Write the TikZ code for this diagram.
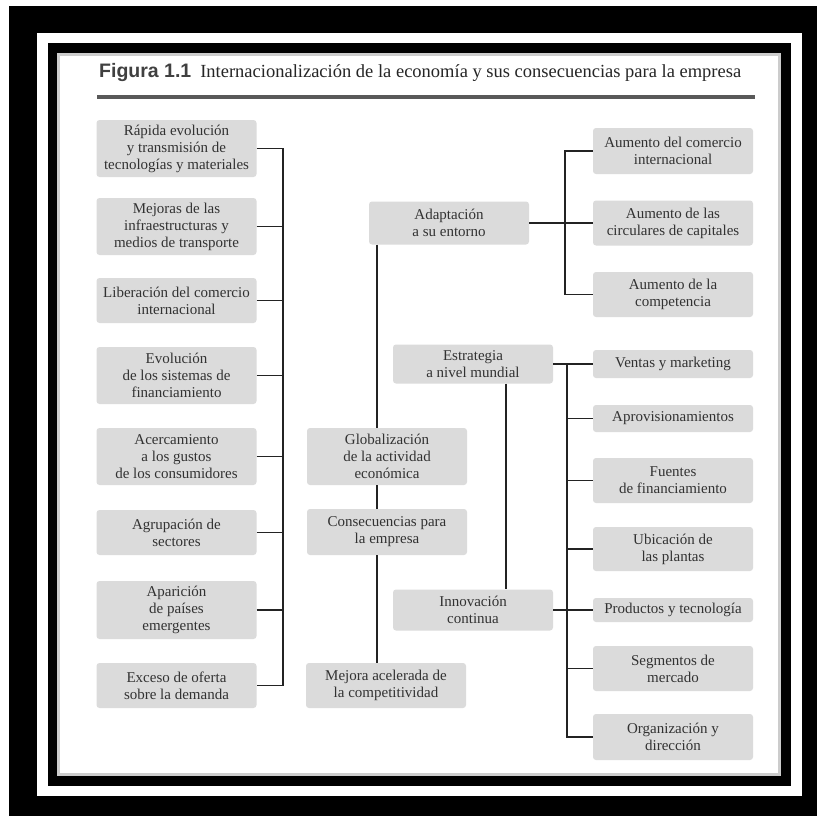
\documentclass[tikz,border=0pt]{standalone}
\usepackage{fontspec}
\setmainfont{Liberation Serif}
\newfontfamily\figsans{Liberation Sans}
\definecolor{boxgray}{RGB}{219,219,219}
\definecolor{txtgray}{RGB}{50,50,50}
\definecolor{linegray}{RGB}{35,35,35}

\begin{document}
\begin{tikzpicture}[x=1pt,y=-1pt,
    box/.style={fill=boxgray,rounded corners=3pt,text=txtgray,align=center,
      font=\fontsize{15}{17}\selectfont,minimum width=160pt,inner sep=0pt},
    ln/.style={draw=linegray,line width=1.8pt}]
  \useasboundingbox (0,0) rectangle (817,816);
  % frame
  \fill[white] (0,0) rectangle (817,816);
  \fill[black] (9,6) rectangle (817,816);
  \fill[white] (37,33) rectangle (802,796);
  \fill[black] (48,43) rectangle (791,786);
  \fill[white] (58,55) rectangle (779,774);
  \draw[black!20,line width=3pt] (58,55) rectangle (779,774);
  % title
  \node[anchor=west,inner sep=0pt,font=\fontsize{18.5}{22}\selectfont,text=black!85] (title) at (99,73)
    {{\figsans\bfseries\fontsize{19.5}{22}\selectfont\color{black!75}Figura 1.1}\hspace{9pt}Internacionalización de la economía y sus consecuencias para la empresa};
  \draw[black!65,line width=4pt] (97,97) -- (755,97);
  % left column
  \node[box,minimum height=57pt] (rap) at (176.5,148.5) {Rápida evolución\\y transmisión de\\tecnologías y materiales};
  \node[box,minimum height=57pt] (mej) at (176.5,226.5) {Mejoras de las\\infraestructuras y\\medios de transporte};
  \node[box,minimum height=45pt] (lib) at (176.5,300.5) {Liberación del comercio\\internacional};
  \node[box,minimum height=57pt] (evo) at (176.5,375.5) {Evolución\\de los sistemas de\\financiamiento};
  \node[box,minimum height=57pt] (ace) at (176.5,456.5) {Acercamiento\\a los gustos\\de los consumidores};
  \node[box,minimum height=45pt] (agr) at (176.5,532.5) {Agrupación de\\sectores};
  \node[box,minimum height=58pt] (apa) at (176.5,610) {Aparición\\de países\\emergentes};
  \node[box,minimum height=45pt] (exc) at (176.5,685.5) {Exceso de oferta\\sobre la demanda};
  % middle column
  \node[box,minimum height=43pt] (adap) at (449,223) {Adaptación\\a su entorno};
  \node[box,minimum height=39pt] (estr) at (473,364) {Estrategia\\a nivel mundial};
  \node[box,minimum height=57pt] (glob) at (387,456.5) {Globalización\\de la actividad\\económica};
  \node[box,minimum height=46pt] (cons) at (387,532) {Consecuencias para\\la empresa};
  \node[box,minimum height=41pt] (inno) at (473,610) {Innovación\\continua};
  \node[box,minimum height=45pt] (mejora) at (386,685.5) {Mejora acelerada de\\la competitividad};
  % right column
  \node[box,minimum height=46pt] (com) at (673,151) {Aumento del comercio\\internacional};
  \node[box,minimum height=45pt] (circ) at (673,223) {Aumento de las\\circulares de capitales};
  \node[box,minimum height=45pt] (compe) at (673,294.5) {Aumento de la\\competencia};
  \node[box,minimum height=28pt] (vent) at (673,364) {Ventas y marketing};
  \node[box,minimum height=27pt] (aprov) at (673,418.5) {Aprovisionamientos};
  \node[box,minimum height=45pt] (fuen) at (673,480.5) {Fuentes\\de financiamiento};
  \node[box,minimum height=44pt] (ubic) at (673,549) {Ubicación de\\las plantas};
  \node[box,minimum height=24pt] (prod) at (673,610) {Productos y tecnología};
  \node[box,minimum height=45pt] (segm) at (673,668.5) {Segmentos de\\mercado};
  \node[box,minimum height=46pt] (org) at (673,737) {Organización y\\dirección};
  % bars
  \coordinate (lbar) at (283,0);
  \coordinate (mbar) at (377,0);
  \coordinate (ebar) at (506,0);
  \coordinate (ubar) at (565,0);
  \coordinate (dbar) at (567,0);
  % left bracket
  \draw[ln] (rap.east) -| (exc.east -| lbar) -- (exc.east);
  \foreach \n in {mej,lib,evo,ace,agr,apa}
    \draw[ln] (\n.east) -- (\n.east -| lbar);
  % middle chain
  \draw[ln] (adap.south -| mbar) -- (glob.north -| mbar);
  \draw[ln] (glob.south -| mbar) -- (cons.north -| mbar);
  \draw[ln] (cons.south -| mbar) -- (mejora.north -| mbar);
  \draw[ln] (estr.south -| ebar) -- (inno.north -| ebar);
  % upper right bracket
  \draw[ln] (com.west) -| (compe.west -| ubar) -- (compe.west);
  \draw[ln] (adap.east) -- (circ.west);
  % lower right bracket
  \draw[ln] (estr.east) -- (vent.west);
  \draw[ln] (vent.west -| dbar) |- (org.west);
  \foreach \n in {aprov,fuen,ubic,segm}
    \draw[ln] (\n.west -| dbar) -- (\n.west);
  \draw[ln] (inno.east) -- (prod.west);
\end{tikzpicture}
\end{document}
